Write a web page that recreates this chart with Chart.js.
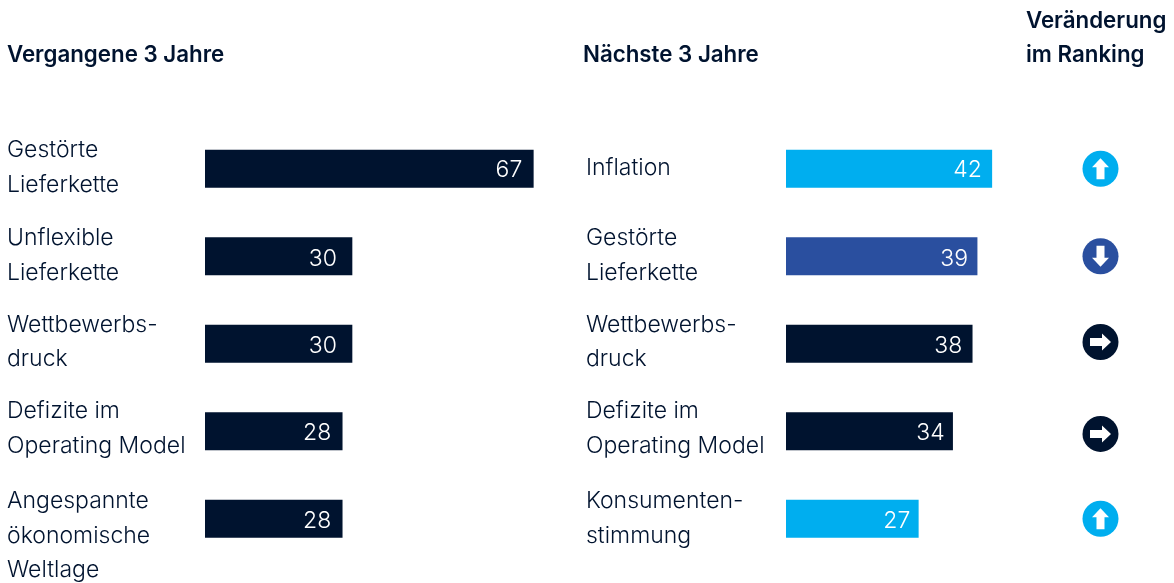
<!DOCTYPE html>
<html><head><meta charset="utf-8">
<script src="https://cdn.jsdelivr.net/npm/chart.js@4"></script>
<style>
html,body{margin:0;padding:0;background:#fff;width:1174px;height:583px;overflow:hidden}
canvas{position:absolute;left:0;top:0}
</style></head><body>
<canvas id="cl" width="1174" height="583" style="width:1174px;height:583px"></canvas>
<canvas id="cr" width="1174" height="583" style="width:1174px;height:583px"></canvas>
<canvas id="cx" width="1174" height="583" style="width:1174px;height:583px"></canvas>
<script>
const leftCategories=[["Gestörte","Lieferkette"],["Unflexible","Lieferkette"],["Wettbewerbs-","druck"],["Defizite im","Operating Model"],["Angespannte","ökonomische","Weltlage"]];
const leftValues=[67,30,30,28,28];
const rightCategories=[["Inflation"],["Gestörte","Lieferkette"],["Wettbewerbs-","druck"],["Defizite im","Operating Model"],["Konsumenten-","stimmung"]];
const rightValues=[42,39,38,34,27];
const NAVY="#00132F",CYAN="#00AEEF",BLUE="#2A4F9F";
const rightColors=[CYAN,BLUE,NAVY,NAVY,CYAN];
const rankChange=["up","down","same","same","up"];
const rankRows=[0,1,1.98,3.03,4];
const leftLabelInset=[11,15,15,11,11];
const rightLabelInset=[10,9,10,8,8];
const leftLabelShift=[-18.5,-18,-19,-20,-17.5];
const rightLabelShift=[-0.5,-18,-19,-20,-17.5];
const valueShift=[1,3,2,2,2];
const headers=[{t:["Vergangene 3 Jahre"],x:7,y:55},{t:["Nächste 3 Jahre"],x:583,y:55},{t:["Veränderung","im Ranking"],x:1026,y:21}];
const FONT='"Inter","Open Sans",sans-serif';
const rows=[0,1,2,3,4];
const yScale=()=>({type:'linear',reverse:true,min:-0.5,max:4.5,display:false,offset:false});
const common={responsive:false,animation:false,maintainAspectRatio:false,plugins:{legend:{display:false},tooltip:{enabled:false}}};

function barChart(id,values,colors,cats,textX,shift,inset,left){
 const max=70,right=1174-left-4.9*max;
 new Chart(document.getElementById(id),{
  type:'bar',
  data:{labels:rows,datasets:[{data:values,backgroundColor:colors,barThickness:37.5,borderWidth:0}]},
  plugins:[{id:'txt',afterDraw(ch){
   const {ctx,scales}=ch;ctx.save();
   ctx.textBaseline='middle';ctx.textAlign='left';ctx.fillStyle=NAVY;
   ctx.font='300 23px '+FONT;
   cats.forEach((lines,i)=>{const top=scales.y.getPixelForValue(i)+shift[i];
    lines.forEach((l,j)=>ctx.fillText(l,textX,top+j*34.6));});
   ctx.font='300 23px '+FONT;ctx.textAlign='right';ctx.fillStyle='#fff';
   values.forEach((v,i)=>ctx.fillText(v,scales.x.getPixelForValue(v)-inset[i],scales.y.getPixelForValue(i)+valueShift[i]));
   ctx.restore();
  }}],
  options:{...common,indexAxis:'y',layout:{padding:{left,right,top:125,bottom:20.5}},
   scales:{y:yScale(),x:{type:'linear',min:0,max,display:false}}}
 });
}
barChart('cl',leftValues,NAVY,leftCategories,7,leftLabelShift,leftLabelInset,205);
barChart('cr',rightValues,rightColors,rightCategories,586,rightLabelShift,rightLabelInset,786);

new Chart(document.getElementById('cx'),{
 type:'bubble',
 data:{datasets:[{data:rankRows.map(r=>({x:0,y:r,r:18})),backgroundColor:rightColors,borderWidth:0,clip:false}]},
 plugins:[{id:'ic',afterDraw(ch){
  const {ctx,scales}=ch;ctx.save();
  ctx.textBaseline='middle';ctx.textAlign='left';ctx.fillStyle=NAVY;
  ctx.font='600 22.3px '+FONT;
  headers.forEach(h=>h.t.forEach((l,i)=>ctx.fillText(l,h.x,h.y+i*34)));
  ctx.fillStyle='#fff';
  rankChange.forEach((d,i)=>{
   const cx=scales.x.getPixelForValue(0),cy=scales.y.getPixelForValue(rankRows[i]);
   ctx.save();ctx.translate(cx,cy);
   ctx.rotate(d==='up'?-Math.PI/2:d==='down'?Math.PI/2:0);
   ctx.beginPath();ctx.moveTo(-10.5,-4);ctx.lineTo(1.5,-4);ctx.lineTo(1.5,-8.5);ctx.lineTo(10.5,0);ctx.lineTo(1.5,8.5);ctx.lineTo(1.5,4);ctx.lineTo(-10.5,4);ctx.closePath();ctx.fill();
   ctx.restore();
  });
  ctx.restore();
 }}],
 options:{...common,layout:{padding:{left:1080,right:53,top:125,bottom:20.5}},
  scales:{y:yScale(),x:{type:'linear',min:-1,max:1,display:false}}}
});
</script></body></html>
